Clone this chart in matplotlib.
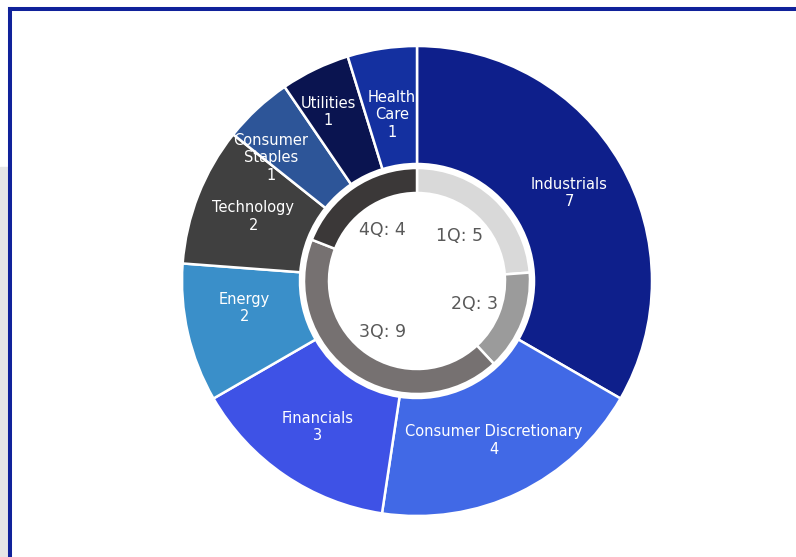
import numpy as np
import matplotlib
matplotlib.use("Agg")
import matplotlib.pyplot as plt

# outer ring: sectors
sectors = ["Industrials", "Consumer Discretionary", "Financials", "Energy",
           "Technology", "Consumer Staples", "Utilities", "Health Care"]
sector_counts = [7, 4, 3, 2, 2, 1, 1, 1]
sector_labels = ["Industrials", "Consumer Discretionary", "Financials", "Energy",
                 "Technology", "Consumer\nStaples", "Utilities", "Health\nCare"]
sector_colors = ["#0e1f8b", "#4169e6", "#3e52e6", "#3a8fc9",
                 "#404040", "#2d5598", "#0a1450", "#1430a0"]

# inner ring: quarters
quarters = ["1Q", "2Q", "3Q", "4Q"]
quarter_counts = [5, 3, 9, 4]
quarter_colors = ["#d9d9d9", "#9b9b9b", "#767171", "#3b3838"]

W, H = 796, 557
fig = plt.figure(figsize=(W / 100, H / 100), dpi=100)
ax = fig.add_axes([0, 0, 1, 1])

cx, cy = 417, H - 281

outer, _ = ax.pie(sector_counts, colors=sector_colors, radius=235, center=(cx, cy),
                  startangle=90, counterclock=False,
                  wedgeprops=dict(width=118, edgecolor="white", linewidth=1.8))
inner, _ = ax.pie(quarter_counts, colors=quarter_colors, radius=113, center=(cx, cy),
                  startangle=90, counterclock=False,
                  wedgeprops=dict(width=25, edgecolor="white", linewidth=1.8))

# label placement tweaks (radius, angle shift in degrees) per outer wedge
lab_r = [176, 177, 177, 175, 176, 191, 191, 168]
lab_da = [0, 0, 0, -4, 0, 7, 2, 0]

for w, lab, n, r, da in zip(outer, sector_labels, sector_counts, lab_r, lab_da):
    ang = np.deg2rad((w.theta1 + w.theta2) / 2 + da)
    ax.text(cx + r * np.cos(ang), cy + r * np.sin(ang), f"{lab}\n{n}",
            ha="center", va="center", color="white", fontsize=10.5, linespacing=1.2)

# labels inside the inner ring
for w, q, n in zip(inner, quarters, quarter_counts):
    ang = np.deg2rad((w.theta1 + w.theta2) / 2)
    r = 62
    ax.text(cx + r * np.cos(ang), cy + r * np.sin(ang), f"{q}: {n}",
            ha="center", va="center", color="#595959", fontsize=12.5)

# frame and grey strip around the chart area
ax.add_patch(plt.Rectangle((0, 0), 8, H - 167, color="#e6e6e6", zorder=0))
ax.plot([10, 10], [-10, H - 9.3], color="#10229a", lw=2.9, solid_capstyle="projecting")
ax.plot([10, W + 10], [H - 9.3, H - 9.3], color="#10229a", lw=2.9, solid_capstyle="projecting")

ax.set_xlim(0, W)
ax.set_ylim(0, H)
ax.set_aspect("equal")
ax.axis("off")

fig.savefig("out.png", dpi=100)
